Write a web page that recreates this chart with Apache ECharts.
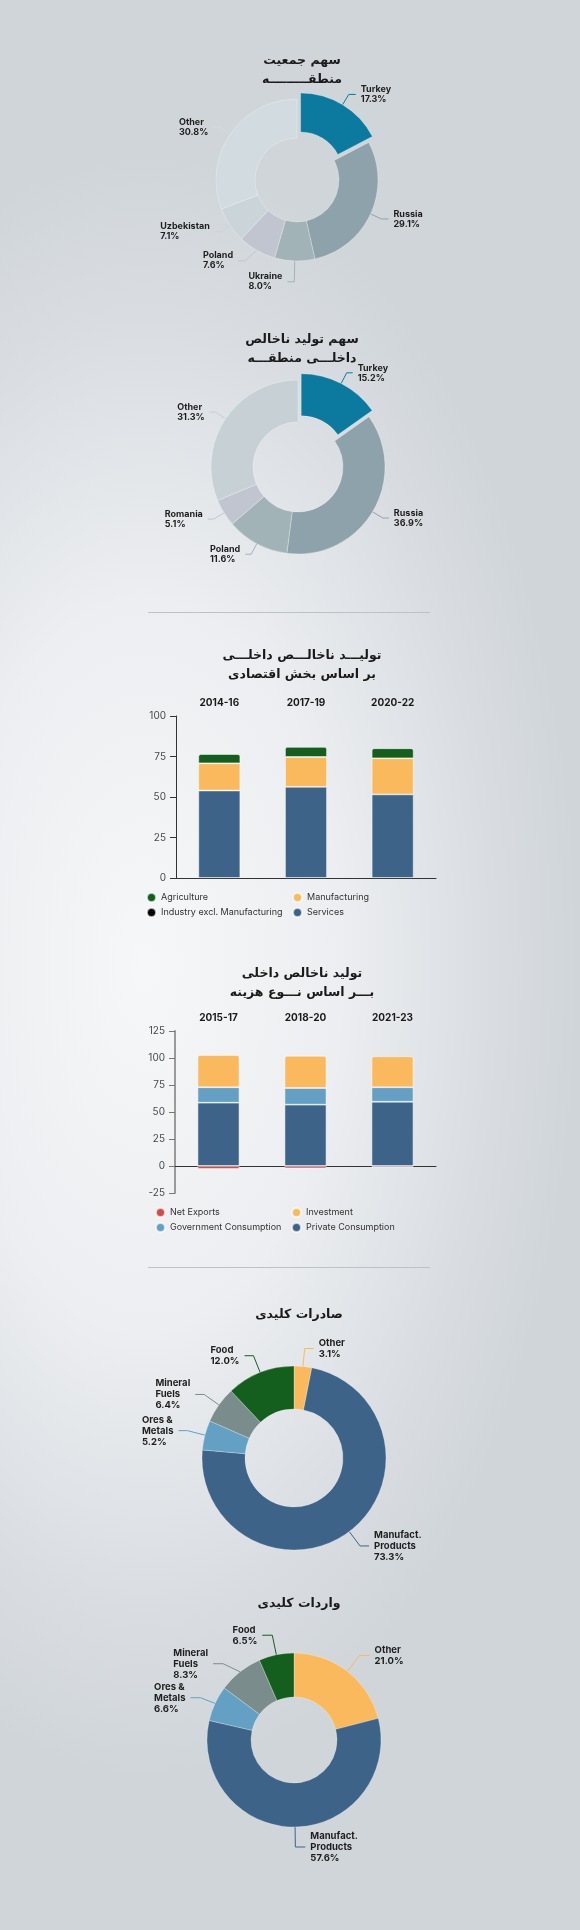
<!DOCTYPE html>
<html><head><meta charset="utf-8">
<script src="https://cdn.jsdelivr.net/npm/echarts@6/dist/echarts.min.js"></script>
<style>
html,body{margin:0;padding:0;}
body{width:580px;height:1930px;position:relative;overflow:hidden;
background:radial-gradient(ellipse 75% 42% at 25% 50%, #f6f7f8 0%, #eceef1 45%, #d9dde1 80%, #d0d5da 100%);}
#c{position:absolute;left:0;top:0;width:580px;height:1930px;}
.hr{position:absolute;left:148px;width:282px;height:1px;background:#bcc2c8;}
</style></head><body>
<div class="hr" style="top:612px"></div>
<div class="hr" style="top:1267px"></div>
<div id="c"></div>
<script>
// ---- data ----
const popNames = ['Turkey','Russia','Ukraine','Poland','Uzbekistan','Other'];
const popValues = [17.3, 29.1, 8.0, 7.6, 7.1, 30.8];
const gdpNames = ['Turkey','Russia','Poland','Romania','Other'];
const gdpValues = [15.2, 36.9, 11.6, 5.1, 31.3];

const sectorPeriods = ['2014-16','2017-19','2020-22'];
const services = [54.0, 56.3, 51.6];
const manufacturing = [16.8, 18.4, 22.3];
const industryExclMfg = [null, null, null];
const agriculture = [5.7, 6.2, 6.2];

const expPeriods = ['2015-17','2018-20','2021-23'];
const privateConsumption = [58.6, 56.8, 59.5];
const governmentConsumption = [14.3, 15.4, 13.4];
const investment = [29.9, 29.9, 28.7];
const netExports = [-2.8, -2.2, -1.2];

const exportNames = ['Other','Manufact.\nProducts','Ores &\nMetals','Mineral\nFuels','Food'];
const exportValues = [3.1, 73.3, 5.2, 6.4, 12.0];
const importNames = ['Other','Manufact.\nProducts','Ores &\nMetals','Mineral\nFuels','Food'];
const importValues = [21.0, 57.6, 6.6, 8.3, 6.5];

const titles = [
  'سهم جمعیت\nمنطقـــــــــه',
  'سهم تولید ناخالص\nداخلـــی منطقـــه',
  'تولیـــد ناخالـــص داخلـــی\nبر اساس بخش اقتصادی',
  'تولید ناخالص داخلی\nبـــر اساس نـــوع هزینه',
  'صادرات کلیدی',
  'واردات کلیدی'
];

// ---- styles ----
const popColors = ['#0b7a9e','#8da2aa','#a2b3b8','#c0c5d0','#cbd4d8','#d2dbdf'];
const gdpColors = ['#0b7a9e','#8da2aa','#a2b3b8','#c0c5d0','#c6d0d5'];
const tradeColors = ['#f9b95c','#3e6388','#63a0c3','#7b8c8c','#145f1e'];
const C = {agri:'#145f1e', mfg:'#f9b95c', ind:'#000000', serv:'#3e6388',
           nx:'#d24c4c', inv:'#f9b95c', gov:'#63a0c3', priv:'#3e6388'};
const FONT = 'Inter, Roboto, sans-serif';
const AR = 'DejaVu Sans, sans-serif';

function titleObj(text, x, top) {
  return {text, left: x, top, textAlign: 'center',
    textStyle:{fontFamily: AR, fontWeight:'bold', fontSize:12.5, color:'#1a1a1a', lineHeight:19}};
}
function pieLabel(fs, lh) {
  return {show:true,
    formatter: p => (p.name + '\n' + p.value.toFixed(1) + '%').split('\n').map(s => '{t|' + s + '}').join('\n'),
    rich: {t: {align:'left', color:'#1e1e1e', fontFamily:FONT, fontWeight:'bold', fontSize:fs, lineHeight:lh}}};
}
function pieSeries(names, values, colors, center, radius, fs, lh, len, len2, selFirst) {
  return {type:'pie', center, radius, startAngle:90, clockwise:true, avoidLabelOverlap:true,
    selectedMode: selFirst ? 'single' : false, selectedOffset: 7,
    label: pieLabel(fs, lh),
    labelLine: {show:true, length:len, length2:len2, lineStyle:{width:1}},
    itemStyle: {borderColor:'rgba(255,255,255,0.45)', borderWidth:0.6},
    emphasis:{disabled:true},
    data: names.map((n,i)=>({name:n, value:values[i], selected: selFirst && i===0,
      itemStyle:{color:colors[i]}}))};
}

const yLabel = {color:'#4a4a4a', fontSize:10, fontFamily:FONT, margin:10};
const topCat = {color:'#1a1a1a', fontSize:10, fontWeight:'bold', fontFamily:FONT, margin:8};
const segBorder = {borderColor:'rgba(255,255,255,0.65)', borderWidth:0.8};

function barSeries(name, data, color, xi, yi, top) {
  return {type:'bar', name, data, stack:'s'+xi, xAxisIndex:xi*2, yAxisIndex:xi, barWidth:42,
    itemStyle: Object.assign({color, borderRadius: top ? [2,2,0,0] : 0}, segBorder),
    emphasis:{disabled:true}};
}

const legendText = {color:'#333', fontSize:9, fontFamily:FONT};
function legendCol(left, top, data) {
  return {orient:'vertical', left, top, padding:0, itemGap:4, icon:'circle',
    itemWidth:9, itemHeight:9, textStyle:legendText, selectedMode:false,
    data: data};
}

const chart = echarts.init(document.getElementById('c'), null, {renderer:'canvas'});
chart.setOption({
  animation:false,
  backgroundColor:'transparent',
  title: [
    titleObj(titles[0], 297, 46),
    titleObj(titles[1], 297, 325),
    titleObj(titles[2], 297, 641),
    titleObj(titles[3], 297, 959),
    titleObj(titles[4], 294, 1300),
    titleObj(titles[5], 294, 1589)
  ],
  legend: [
    legendCol(146, 892, [{name:'Agriculture', itemStyle:{color:C.agri}}, {name:'Industry excl. Manufacturing', itemStyle:{color:C.ind}}]),
    legendCol(292, 892, [{name:'Manufacturing'}, {name:'Services'}]),
    legendCol(155, 1207, [{name:'Net Exports'}, {name:'Government Consumption'}]),
    legendCol(291, 1207, [{name:'Investment'}, {name:'Private Consumption'}])
  ],
  grid: [
    {left:176, top:716, width:260, height:162},
    {left:175, top:1031, width:261, height:162}
  ],
  xAxis: [
    {gridIndex:0, type:'category', data:sectorPeriods, position:'bottom',
      axisLine:{lineStyle:{color:'#333', width:1}}, axisTick:{show:false}, axisLabel:{show:false}},
    {gridIndex:0, type:'category', data:sectorPeriods, position:'top',
      axisLine:{show:false}, axisTick:{show:false}, axisLabel:topCat},
    {gridIndex:1, type:'category', data:expPeriods, position:'bottom',
      axisLine:{onZero:true, lineStyle:{color:'#333', width:1}}, axisTick:{show:false}, axisLabel:{show:false}},
    {gridIndex:1, type:'category', data:expPeriods, position:'top',
      axisLine:{show:false}, axisTick:{show:false}, axisLabel:topCat}
  ],
  yAxis: [
    {gridIndex:0, type:'value', min:0, max:100, interval:25,
      axisLine:{show:true, lineStyle:{color:'#333', width:1}},
      axisTick:{show:true, length:6, lineStyle:{color:'#333'}},
      splitLine:{show:false}, axisLabel:yLabel},
    {gridIndex:1, type:'value', min:-25, max:125, interval:25,
      axisLine:{show:true, onZero:false, lineStyle:{color:'#9a9a9a', width:2}},
      axisTick:{show:true, length:6, lineStyle:{color:'#777'}},
      splitLine:{show:false}, axisLabel:yLabel}
  ],
  series: [
    pieSeries(popNames, popValues, popColors, [297,180], [42,81], 9, 10, 12, 7, true),
    pieSeries(gdpNames, gdpValues, gdpColors, [298,467], [45,87], 9, 10, 12, 6, true),
    barSeries('Services', services, C.serv, 0, 0, false),
    barSeries('Manufacturing', manufacturing, C.mfg, 0, 0, false),
    barSeries('Industry excl. Manufacturing', industryExclMfg, C.ind, 0, 0, false),
    barSeries('Agriculture', agriculture, C.agri, 0, 0, true),
    barSeries('Net Exports', netExports, C.nx, 1, 1, false),
    barSeries('Private Consumption', privateConsumption, C.priv, 1, 1, false),
    barSeries('Government Consumption', governmentConsumption, C.gov, 1, 1, false),
    barSeries('Investment', investment, C.inv, 1, 1, true),
    pieSeries(exportNames, exportValues, tradeColors, [294,1458], [49,92], 9.5, 11, 18, 9, false),
    pieSeries(importNames, importValues, tradeColors, [294,1740], [43,87], 9.5, 11, 20, 10, false)
  ]
});
</script>
</body></html>
